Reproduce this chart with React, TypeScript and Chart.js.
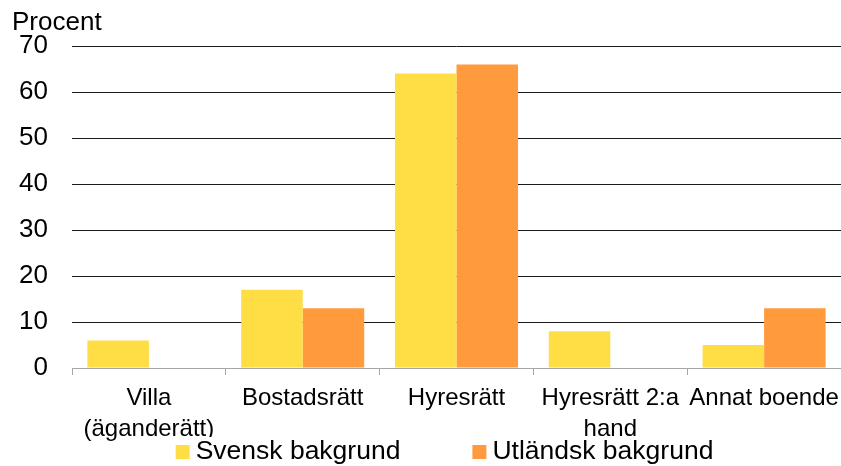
import React, { useEffect, useRef } from "react";
import { Chart, registerables } from "chart.js";

Chart.register(...registerables);

const categories: (string | string[])[] = [
  ["Villa", "(äganderätt)"],
  "Bostadsrätt",
  "Hyresrätt",
  ["Hyresrätt 2:a", "hand"],
  "Annat boende",
];
const svensk = [6, 17, 64, 8, 5];
const utlandsk = [0, 13, 66, 0, 13];
const seriesNames = ["Svensk bakgrund", "Utländsk bakgrund"];
const yTicks = [0, 10, 20, 30, 40, 50, 60, 70];
const yTitle = "Procent";

const FONT = "'Liberation Sans', Arial, sans-serif";
const YELLOW = "#FFDD44";
const ORANGE = "#FF9A3D";

const customPlugin = {
  id: "customDecor",
  afterDraw(chart: any) {
    const ctx = chart.ctx;
    const area = chart.chartArea;
    ctx.save();
    // Title "Procent"
    ctx.font = `26px ${FONT}`;
    ctx.fillStyle = "#000";
    ctx.textAlign = "left";
    ctx.textBaseline = "alphabetic";
    ctx.fillText(yTitle, 12, area.top - 16);
    // Legend
    ctx.font = `26.5px ${FONT}`;
    const box = 14;
    const gap = 6;
    const spacing = 72;
    const items = chart.data.datasets.map((ds: any) => ({
      text: ds.label,
      color: ds.backgroundColor,
      w: box + gap + ctx.measureText(ds.label).width,
    }));
    const total =
      items.reduce((s: number, it: any) => s + it.w, 0) + spacing * (items.length - 1);
    let x = (area.left + area.right) / 2 - 12 - total / 2;
    const baseline = chart.height - 7;
    // white backdrop like the reference legend area
    ctx.fillStyle = "#fff";
    ctx.fillRect(x - 4, baseline - 22, total + 8, 29);
    for (const it of items) {
      ctx.fillStyle = it.color;
      ctx.fillRect(x, baseline - 14, box, box);
      ctx.fillStyle = "#000";
      ctx.fillText(it.text, x + box + gap, baseline);
      x += it.w + spacing;
    }
    ctx.restore();
  },
};

export default function App() {
  const ref = useRef<HTMLCanvasElement | null>(null);
  useEffect(() => {
    if (!ref.current) return;
    const chart = new Chart(ref.current, {
      type: "bar",
      data: {
        labels: categories,
        datasets: [
          {
            label: seriesNames[0],
            data: svensk,
            backgroundColor: YELLOW,
            borderWidth: 0,
          },
          {
            label: seriesNames[1],
            data: utlandsk,
            backgroundColor: ORANGE,
            borderWidth: 0,
          },
        ],
      },
      options: {
        responsive: false,
        animation: false,
        layout: { padding: { top: 46, left: 12, right: 0, bottom: 0 } },
        datasets: {
          bar: { categoryPercentage: 0.8, barPercentage: 1.0 },
        },
        plugins: {
          legend: { display: false },
          title: { display: false },
          tooltip: { enabled: false },
        },
        scales: {
          x: {
            afterFit: (scale: any) => {
              scale.height = 98;
              scale.paddingLeft = 0;
              scale.paddingRight = 0;
            },
            grid: {
              offset: true,
              drawOnChartArea: false,
              drawTicks: true,
              tickLength: 7,
              color: "#A6A6A6",
            },
            border: { display: true, color: "#A6A6A6", width: 1 },
            ticks: {
              color: "#000",
              font: { family: FONT, size: 24, lineHeight: 1.28 },
              padding: 8,
              maxRotation: 0,
              minRotation: 0,
              autoSkip: false,
            },
          },
          y: {
            min: 0,
            max: 70,
            afterBuildTicks: (scale: any) => {
              scale.ticks = yTicks.map((v) => ({ value: v }));
            },
            afterFit: (scale: any) => {
              scale.width = 60;
            },
            grid: {
              drawTicks: false,
              color: (c: any) => (c.tick && c.tick.value === 0 ? "rgba(0,0,0,0)" : "#1a1a1a"),
              lineWidth: 1,
            },
            border: { display: false },
            ticks: {
              color: "#000",
              font: { family: FONT, size: 26 },
              padding: 24,
            },
          },
        },
      },
      plugins: [customPlugin],
    });
    return () => chart.destroy();
  }, []);
  return (
    <canvas
      ref={ref}
      width={841}
      height={466}
      style={{ position: "absolute", left: 0, top: 0, display: "block" }}
    />
  );
}
